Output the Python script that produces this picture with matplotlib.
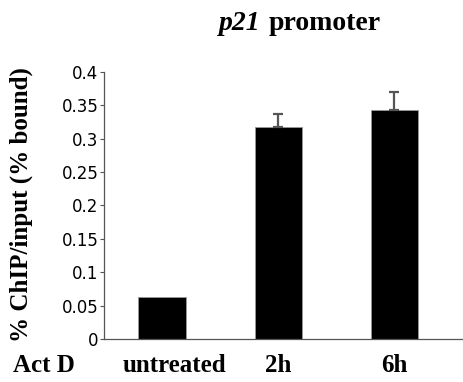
import matplotlib
matplotlib.use("Agg")
import matplotlib.pyplot as plt
import matplotlib.transforms as mtransforms

categories = ['untreated', '2h', '6h']
bound = [0.0625, 0.318, 0.343]
err_up = [0, 0.019, 0.027]
yticks = [0, 0.05, 0.1, 0.15, 0.2, 0.25, 0.3, 0.35, 0.4]
ytick_labels = ['0', '0.05', '0.1', '0.15', '0.2', '0.25', '0.3', '0.35', '0.4']

serif = 'Liberation Serif'

fig = plt.figure(figsize=(4.64, 3.82), dpi=100)
ax = fig.add_axes([0.224, 0.1126, 0.776, 0.699])

x = list(range(len(categories)))
ax.bar(x, bound, width=0.405, color='black', edgecolor='#999999', linewidth=0.6, zorder=2)
ax.errorbar(x[1:], bound[1:], yerr=[[0, 0], err_up[1:]], fmt='none',
            ecolor='#555555', elinewidth=1.6, capsize=3.5, capthick=1.6, zorder=3)

ax.set_xlim(-0.5, 2.6)
ax.set_ylim(0, 0.4)
ax.set_yticks(yticks)
ax.set_yticklabels(ytick_labels, fontsize=12, family='DejaVu Sans')
ax.set_xticks(x)
ax.set_xticklabels(categories, fontsize=18, family=serif, fontweight='bold')
ax.tick_params(axis='x', length=0, pad=11)
ax.tick_params(axis='y', length=3, width=0.8, color='#555555', pad=1)

# shift the first label slightly right like the original
shift = mtransforms.ScaledTranslation(12 / 100, 0, fig.dpi_scale_trans)
lab = ax.get_xticklabels()[0]
lab.set_transform(lab.get_transform() + shift)

for s in ['top', 'right']:
    ax.spines[s].set_visible(False)
for s in ['left', 'bottom']:
    ax.spines[s].set_color('#555555')
    ax.spines[s].set_linewidth(0.9)

fig.text(13 / 464, 1 - 372 / 382, 'Act D', fontsize=18, family=serif, fontweight='bold',
         ha='left', va='baseline')
fig.text(21 / 464, 1 - 205 / 382, '% ChIP/input (% bound)', fontsize=18, family=serif,
         fontweight='bold', rotation=90, ha='center', va='center')
fig.text(261 / 464, 1 - 30 / 382, 'p21', fontsize=20, family=serif,
         fontweight='bold', style='italic', ha='right', va='baseline')
fig.text(269 / 464, 1 - 30 / 382, 'promoter', fontsize=20, family=serif,
         fontweight='bold', ha='left', va='baseline')

fig.savefig('out.png', dpi=100)
